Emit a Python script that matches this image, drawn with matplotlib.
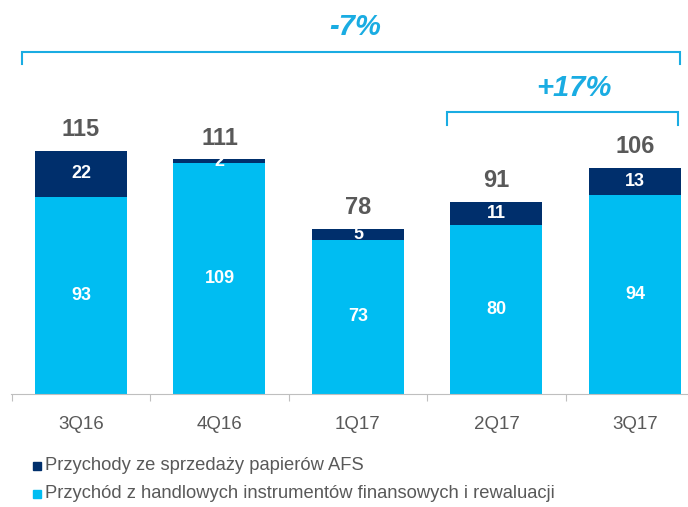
import matplotlib
matplotlib.use("Agg")
import matplotlib.pyplot as plt
from matplotlib.patches import Rectangle

categories = ["3Q16", "4Q16", "1Q17", "2Q17", "3Q17"]
trading = [93, 109, 73, 80, 94]
afs = [22, 2, 5, 11, 13]
totals = [115, 111, 78, 91, 106]
legend_labels = ["Przychody ze sprzedaży papierów AFS",
                 "Przychód z handlowych instrumentów finansowych i rewaluacji"]
changes = ["-7%", "+17%"]

DARK = "#002F6C"
LIGHT = "#00BDF2"
CYAN = "#1AACE2"
GREY = "#595959"

plt.rcParams['font.family'] = ['Liberation Sans', 'DejaVu Sans']

fig = plt.figure(figsize=(6.88, 5.07), dpi=100)
ax = fig.add_axes([11/688, 113/507, 677/688, 275/507])
x = list(range(len(categories)))
w = 0.664
ax.bar(x, trading, width=w, color=LIGHT)
ax.bar(x, afs, width=w, bottom=trading, color=DARK)
ax.set_xlim(-0.505, 4.383)
ax.set_ylim(0, 130)

for i in x:
    ax.text(i, trading[i] / 2, str(trading[i]), ha='center', va='center',
            color='white', fontsize=13, fontweight='bold')
    ax.text(i, trading[i] + afs[i] / 2, str(afs[i]), ha='center', va='center',
            color='white', fontsize=13, fontweight='bold')
    ax.text(i, trading[i] + afs[i] + 4.5, str(totals[i]), ha='center', va='bottom',
            color=GREY, fontsize=17, fontweight='bold', clip_on=False)

for s in ['top', 'right', 'left']:
    ax.spines[s].set_visible(False)
ax.spines['bottom'].set_color('#BFBFBF')
ax.set_yticks([])
ax.set_xticks([i - 0.5 for i in x])
ax.set_xticklabels([])
ax.set_xticks(x, minor=True)
ax.set_xticklabels(categories, minor=True)
ax.tick_params(axis='x', which='major', length=5, color='#BFBFBF', direction='out')
ax.tick_params(axis='x', which='minor', length=0, pad=16, labelsize=13.5, labelcolor=GREY)

def bracket(x0, x1, ytop, drop, label, tx, ty):
    ax.plot([x0, x0, x1, x1], [ytop - drop, ytop, ytop, ytop - drop], color=CYAN,
            lw=1.5, clip_on=False, solid_joinstyle='miter')
    ax.text(tx, ty, label, ha='center', va='center', color=CYAN,
            fontsize=21, fontweight='bold', fontstyle='italic', clip_on=False)

bracket(-0.426, 4.325, 161.5, 5.7, changes[0], 1.98, 173.3)
bracket(2.643, 4.311, 133.1, 6.0, changes[1], 3.56, 144.5)

# legend
for j, (lab, col) in enumerate(zip(legend_labels, [DARK, LIGHT])):
    yc = 466 + 28 * j
    fig.patches.append(Rectangle((33/688, 1 - (yc + 4)/507), 8/688, 8/507,
                                 transform=fig.transFigure, color=col))
    fig.text(45/688, 1 - yc/507, lab, ha='left', va='center', fontsize=13.2, color=GREY)

fig.savefig("out.png", dpi=100)
